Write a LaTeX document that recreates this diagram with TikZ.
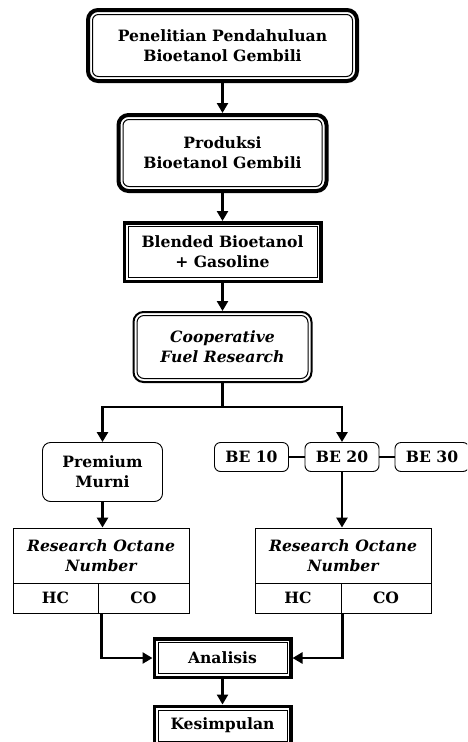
\documentclass[tikz,border=0pt]{standalone}
\usepackage{fontspec}
\setmainfont{DejaVu Serif}
\usetikzlibrary{arrows.meta}
\begin{document}
\begin{tikzpicture}[x=1pt,y=-1pt,
  base/.style={align=center, font=\fontsize{15.6}{20}\selectfont\bfseries, inner sep=0pt},
  ttr/.style={base, draw, line width=4pt, rounded corners=10pt},
  ttq/.style={base, draw, line width=3.5pt},
  dbr/.style={base, draw, line width=2pt, rounded corners=10pt},
  thinr/.style={base, draw, line width=0.9pt, rounded corners=8pt},
  cell/.style={base, draw, line width=0.9pt},
  innerline/.style={line width=1pt},
  arr/.style={line width=2.8pt, -{Triangle[length=10pt,width=11pt]}},
  ln/.style={line width=2.8pt}]
\useasboundingbox (0,0) rectangle (467,742);
\clip (0,0) rectangle (467,742);
% main column
\node[ttr, minimum width=269pt, minimum height=71pt] (b1) at (222.5,45.5) {Penelitian Pendahuluan\\Bioetanol Gembili};
\node[ttr, minimum width=208pt, minimum height=76pt] (b2) at (222.5,153) {Produksi\\Bioetanol Gembili};
\node[ttq, minimum width=196.5pt, minimum height=58.5pt] (b3) at (222.5,252) {Blended Bioetanol\\+ Gasoline};
\node[dbr, minimum width=178pt, minimum height=70pt] (b4) at (222.5,347) {\itshape Cooperative\\\itshape Fuel Research};
% inner lines
\draw[innerline, rounded corners=6pt] ([shift={(6.5,6.5)}]b1.north west) rectangle ([shift={(-6.5,-6.5)}]b1.south east);
\draw[innerline, rounded corners=6pt] ([shift={(6.5,6.5)}]b2.north west) rectangle ([shift={(-6.5,-6.5)}]b2.south east);
\draw[innerline] ([shift={(5.5,5.5)}]b3.north west) rectangle ([shift={(-5.5,-5.5)}]b3.south east);
\draw[innerline, rounded corners=7pt] ([shift={(4.5,4.5)}]b4.north west) rectangle ([shift={(-4.5,-4.5)}]b4.south east);
% branches
\node[thinr, minimum width=120pt, minimum height=59pt] (pm) at (102.5,472) {Premium\\Murni};
\node[thinr, rounded corners=6pt, minimum width=74pt, minimum height=29pt] (be10) at (251.5,457) {BE 10};
\node[thinr, rounded corners=6pt, minimum width=74pt, minimum height=29pt] (be20) at (342,457) {BE 20};
\node[thinr, rounded corners=6pt, minimum width=74pt, minimum height=29pt] (be30) at (432,457) {BE 30};
% RON tables
\node[cell, minimum width=176pt, minimum height=55pt] (roeL) at (101,555.5) {\itshape Research Octane\\\itshape Number};
\node[cell, minimum width=85pt, minimum height=30pt] (hcL) at (55.5,598) {HC};
\node[cell, minimum width=91pt, minimum height=30pt] (coL) at (143.5,598) {CO};
\node[cell, minimum width=176pt, minimum height=55pt] (roeR) at (343,555.5) {\itshape Research Octane\\\itshape Number};
\node[cell, minimum width=86pt, minimum height=30pt] (hcR) at (298,598) {HC};
\node[cell, minimum width=90pt, minimum height=30pt] (coR) at (386,598) {CO};
% analysis
\node[ttq, minimum width=136.5pt, minimum height=38.5pt] (an) at (222.5,658) {Analisis};
\node[ttq, minimum width=136.5pt, minimum height=38.5pt] (ks) at (222.5,725.5) {Kesimpulan};
\draw[innerline] ([shift={(5.5,5.5)}]an.north west) rectangle ([shift={(-5.5,-5.5)}]an.south east);
\draw[innerline] ([shift={(5.5,5.5)}]ks.north west) rectangle ([shift={(-5.5,-5.5)}]ks.south east);
% connectors
\coordinate (split) at (222.5,407);
\draw[arr] (b1.south) -- (b2.north);
\draw[arr] (b2.south) -- (b3.north);
\draw[arr] (b3.south) -- (b4.north);
\draw[ln] (b4.south) -- (split);
\draw[arr] (split) -| (pm.north);
\draw[arr] (split) -| (be20.north);
\draw[ln] (be10.east) -- (be20.west);
\draw[ln] (be20.east) -- (be30.west);
\draw[arr] (pm.south) -- (pm.south |- roeL.north);
\draw[arr] (be20.south) -- (be20.south |- roeR.north);
\draw[arr] ([xshift=4pt]coL.south west) |- (an.west);
\draw[arr] ([xshift=2pt]coR.south west) |- (an.east);
\draw[arr] (an.south) -- (ks.north);
\end{tikzpicture}
\end{document}
